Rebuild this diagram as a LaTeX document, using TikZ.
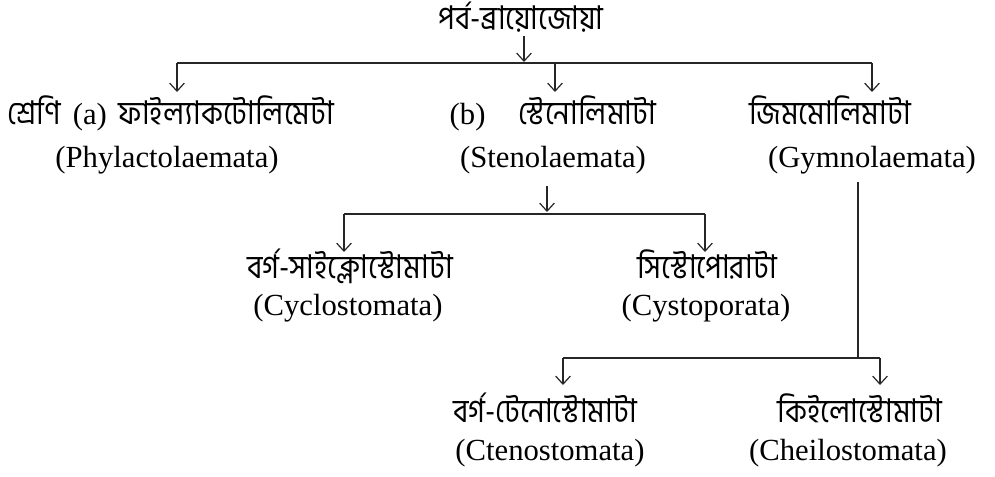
\documentclass[tikz,border=0pt]{standalone}
\usepackage{fontspec}
\setmainfont{Liberation Serif}
\newfontfamily\bn[Script=Bengali,FakeStretch=0.9]{Hind Siliguri}
\usetikzlibrary{arrows.meta}
\begin{document}
\begin{tikzpicture}[x=0.75pt,y=-0.75pt,
  bnt/.style={font=\bn\fontsize{24.5}{28}\selectfont, inner sep=0pt, anchor=base},
  ent/.style={font=\fontsize{23}{27}\selectfont, inner sep=0pt, anchor=base},
  hline/.style={line width=1.4pt, draw=black!85},
  arr/.style={line width=0.9pt, draw=black!85, -{Straight Barb[length=6pt,width=11pt,line width=0.9pt]}}]
\useasboundingbox (0,0) rectangle (995,476);
% texts
\node[bnt] (title) at (521,29) {পর্ব-ব্রায়োজোয়া};
\node[bnt] (phylB) at (171,124) {শ্রেণি \,{\rmfamily\fontsize{23}{27}\selectfont (a)}\, ফাইল্যাকটোলিমেটা};
\node[ent] (phylE) at (167,167) {(Phylactolaemata)};
\node[bnt] (stenB) at (553,124) {{\rmfamily\fontsize{23}{27}\selectfont (b)}\hspace{1em}স্টেনোলিমাটা};
\node[ent] (stenE) at (553,167) {(Stenolaemata)};
\node[bnt] (gymB) at (830,124) {জিমমোলিমাটা};
\node[ent] (gymE) at (872,167) {(Gymnolaemata)};
\node[bnt] (cycB) at (350,278) {বর্গ-সাইক্লোস্টোমাটা};
\node[ent] (cycE) at (348,315) {(Cyclostomata)};
\node[bnt] (cysB) at (707,278) {সিস্টোপোরাটা};
\node[ent] (cysE) at (706,315) {(Cystoporata)};
\node[bnt] (cteB) at (545,422) {বর্গ-টেনোস্টোমাটা};
\node[ent] (cteE) at (550,460) {(Ctenostomata)};
\node[bnt] (cheB) at (860,422) {কিইলোস্টোমাটা};
\node[ent] (cheE) at (848,460) {(Cheilostomata)};
% junctions
\coordinate (j0) at (524,62);
\coordinate (jL) at (177,63);
\coordinate (jM) at (555,63);
\coordinate (jR) at (872,63);
\coordinate (tL) at (177,92);
\coordinate (tM) at (555,92);
\coordinate (tR) at (872,92);
\coordinate (jS) at (547,212);
\coordinate (jSL) at (344,214);
\coordinate (jSR) at (705,214);
\coordinate (tSL) at (344,252);
\coordinate (tSR) at (705,252);
\coordinate (jG) at (858,358);
\coordinate (jGL) at (563,358);
\coordinate (jGR) at (880,358);
\coordinate (tGL) at (563,385);
\coordinate (tGR) at (880,385);
% top level
\draw[arr, shorten <=3pt] (title.south -| j0) -- (j0);
\draw[hline] (jL) -- (jR);
\draw[arr] (jL) -- (tL);
\draw[arr] (jM) -- (tM);
\draw[arr] (jR) -- (tR);
% stenolaemata
\draw[arr, shorten <=9pt] (stenE.south -| jS) -- (jS);
\draw[hline] (jSL) -- (jSR);
\draw[arr] (jSL) -- (tSL);
\draw[arr] (jSR) -- (tSR);
% gymnolaemata
\draw[hline, shorten <=6pt] (gymE.south -| jG) -- (jG);
\draw[hline] (jGL) -- (jGR);
\draw[arr] (jGL) -- (tGL);
\draw[arr] (jGR) -- (tGR);
\end{tikzpicture}
\end{document}
